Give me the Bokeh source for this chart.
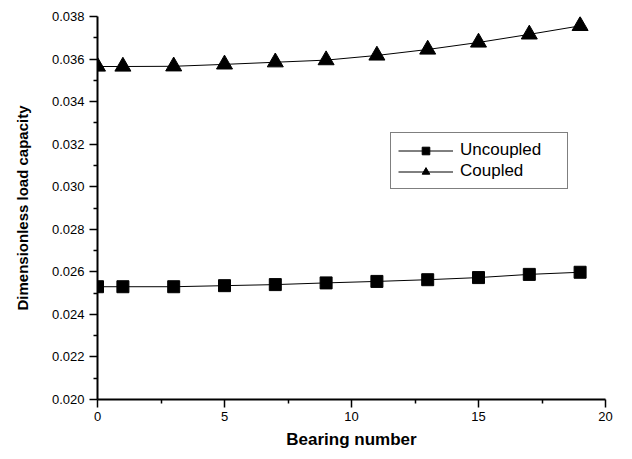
from bokeh.plotting import figure
from bokeh.models import Legend, LegendItem, FixedTicker, Range1d, CustomJSTickFormatter
from bokeh.embed import file_html
from bokeh.resources import INLINE

bearing = [0, 1, 3, 5, 7, 9, 11, 13, 15, 17, 19]
uncoupled = [0.0253, 0.0253, 0.0253, 0.02535, 0.0254, 0.02548, 0.02555, 0.02563, 0.02573, 0.02588, 0.02598]
coupled = [0.03565, 0.03565, 0.03566, 0.03575, 0.03585, 0.03595, 0.03617, 0.03645, 0.03678, 0.03716, 0.03756]

x_ticks = [0, 5, 10, 15, 20]
x_minor = [2.5, 7.5, 12.5, 17.5]
y_ticks = [0.020, 0.022, 0.024, 0.026, 0.028, 0.030, 0.032, 0.034, 0.036, 0.038]
y_minor = [0.021, 0.023, 0.025, 0.027, 0.029, 0.031, 0.033, 0.035, 0.037]

p = figure(width=624, height=451, output_backend="svg", toolbar_location=None,
           x_range=Range1d(0, 20), y_range=Range1d(0.020, 0.038),
           min_border_left=97, min_border_right=19, min_border_top=16, min_border_bottom=51)
p.outline_line_color = None
p.xgrid.visible = False
p.ygrid.visible = False

lu = p.line(bearing, uncoupled, line_color="black", line_width=1)
su = p.scatter(bearing, uncoupled, marker="square", size=12, fill_color="black", line_color="black")
lc = p.line(bearing, coupled, line_color="black", line_width=1)
sc = p.scatter(bearing, coupled, marker="triangle", size=16, fill_color="black", line_color="black")

p.xaxis.ticker = FixedTicker(ticks=x_ticks, minor_ticks=x_minor)
p.yaxis.ticker = FixedTicker(ticks=y_ticks, minor_ticks=y_minor)
p.yaxis.formatter = CustomJSTickFormatter(code="return tick.toFixed(3);")

for ax in (p.xaxis[0], p.yaxis[0]):
    ax.axis_line_color = "black"
    ax.axis_line_width = 2
    ax.major_tick_line_color = "black"
    ax.major_tick_line_width = 1.5
    ax.minor_tick_line_color = "black"
    ax.minor_tick_line_width = 1.5
    ax.major_tick_out = 8
    ax.major_tick_in = 0
    ax.minor_tick_out = 4
    ax.minor_tick_in = 0
    ax.major_label_text_font = "Liberation Sans"
    ax.major_label_text_font_size = "13px"
    ax.major_label_text_color = "black"
    ax.axis_label_text_font = "Liberation Sans"
    ax.axis_label_text_font_style = "bold"
    ax.axis_label_text_color = "black"

p.xaxis.axis_label = "Bearing number"
p.yaxis.axis_label = "Dimensionless load capacity"
p.xaxis.axis_label_text_font_size = "17px"
p.yaxis.axis_label_text_font_size = "15px"
p.xaxis.axis_label_standoff = 6
p.yaxis.axis_label_standoff = 18
p.xaxis.major_label_standoff = 4
p.yaxis.major_label_standoff = 5

legend = Legend(items=[LegendItem(label="Uncoupled", renderers=[lu, su]),
                       LegendItem(label="Coupled", renderers=[lc, sc])],
                location=(293, 210))
legend.border_line_color = "black"
legend.border_line_width = 1.5
legend.label_text_font = "Liberation Sans"
legend.label_text_font_size = "17px"
legend.label_text_color = "black"
legend.glyph_width = 55
legend.glyph_height = 19
legend.label_width = 100
legend.label_height = 19
legend.spacing = 1
legend.padding = 7
legend.margin = 0
legend.label_standoff = 7
legend.background_fill_alpha = 1
p.add_layout(legend, "center")

open("out.html", "w").write(file_html(p, INLINE))
